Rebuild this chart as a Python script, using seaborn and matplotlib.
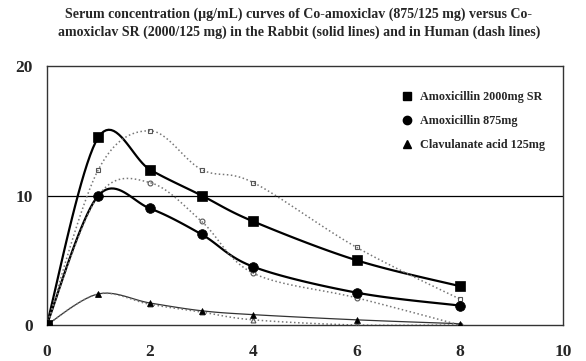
import numpy as np
import pandas as pd
import matplotlib
matplotlib.use("Agg")
import matplotlib.pyplot as plt
from matplotlib.lines import Line2D
import seaborn as sns

# ---- data ----
time_h = [0, 1, 2, 3, 4, 6, 8]
rabbit_amox2000 = [0, 14.5, 12.0, 10.0, 8.0, 5.0, 3.0]
rabbit_amox875 = [0, 10.0, 9.0, 7.0, 4.5, 2.5, 1.5]
rabbit_clav = [0, 2.4, 1.7, 1.1, 0.8, 0.4, 0.1]
human_amox2000 = [0, 12.0, 15.0, 12.0, 11.0, 6.0, 2.0]
human_amox875 = [0, 10.0, 11.0, 8.0, 4.0, 2.1, 0.0]
human_clav = [0, 2.4, 1.6, 1.0, 0.4, 0.0, 0.0]
legend_labels = ["Amoxicillin 2000mg SR", "Amoxicillin 875mg", "Clavulanate acid 125mg"]
title_text = ("Serum concentration (\u00b5g/mL) curves of Co-amoxiclav (875/125 mg) versus Co-\n"
              "amoxiclav SR (2000/125 mg) in the Rabbit (solid lines) and in Human (dash lines)")
x_ticks = [0, 2, 4, 6, 8, 10]
y_ticks = [0, 10, 20]


def smooth(xs, ys, n=20):
    """Catmull-Rom style smoothing (like spreadsheet 'smoothed line')."""
    xs = np.asarray(xs, float)
    ys = np.asarray(ys, float)
    P = np.column_stack([xs, ys])
    P = np.vstack([P[0], P, P[-1]])
    out = []
    for i in range(1, len(P) - 2):
        p0, p1, p2, p3 = P[i - 1], P[i], P[i + 1], P[i + 2]
        c1 = p1 + (p2 - p0) / 6.0
        c2 = p2 - (p3 - p1) / 6.0
        t = np.linspace(0, 1, n, endpoint=(i == len(P) - 3))[:, None]
        seg = ((1 - t) ** 3) * p1 + 3 * ((1 - t) ** 2) * t * c1 + 3 * (1 - t) * t ** 2 * c2 + t ** 3 * p2
        out.append(seg)
    out = np.vstack(out)
    return out[:, 0], out[:, 1]


sns.set_style("white")
plt.rcParams["font.family"] = ["Liberation Serif", "DejaVu Serif"]

fig = plt.figure(figsize=(5.86, 3.61), dpi=100)
ax = fig.add_axes([0.0797, 0.0997, 0.961 - 0.0797, 0.817 - 0.0997])

series = [
    (rabbit_amox2000, "-", 1.6, "black", "s", 7.5, "black"),
    (rabbit_amox875, "-", 1.6, "black", "o", 7.0, "black"),
    (rabbit_clav, "-", 0.9, "#333333", "^", 4.5, "black"),
    (human_amox2000, ":", 1.1, "#777777", "s", 3.5, "none"),
    (human_amox875, ":", 1.1, "#777777", "o", 3.5, "none"),
    (human_clav, ":", 1.1, "#777777", "^", 3.5, "none"),
]

for ys, ls, lw, col, mk, ms, fc in series:
    sx, sy = smooth(time_h, ys)
    sns.lineplot(x=sx, y=sy, ax=ax, sort=False, estimator=None,
                 color=col, linestyle=ls, linewidth=lw)
for ys, ls, lw, col, mk, ms, fc in series[3:] + series[:3]:
    ec = "#555555" if fc == "none" else "black"
    ax.plot(time_h, ys, linestyle="none", marker=mk, markersize=ms,
            markerfacecolor=fc, markeredgecolor=ec, markeredgewidth=0.8 if fc == "none" else 0.5,
            zorder=4)

ax.axhline(10, color="black", linewidth=0.9, zorder=1)
ax.set_xlim(0, 10)
ax.set_ylim(0, 20)
ax.set_xticks(x_ticks)
ax.set_yticks(y_ticks)
ax.set_xlabel("")
ax.set_ylabel("")
for s in ax.spines.values():
    s.set_color("#333333")
    s.set_linewidth(1.0)
ax.tick_params(axis="both", which="both", direction="out", length=4, width=1,
               color="#333333", labelsize=12.5)
ax.tick_params(axis="y", pad=6)
ax.tick_params(axis="x", pad=9.5)
for lab in ax.get_xticklabels() + ax.get_yticklabels():
    lab.set_fontweight("bold")

handles = [
    Line2D([], [], linestyle="none", marker="s", markersize=6, color="black"),
    Line2D([], [], linestyle="none", marker="o", markersize=6, color="black"),
    Line2D([], [], linestyle="none", marker="^", markersize=6, color="black"),
]
ax.legend(handles, legend_labels, loc="upper right", bbox_to_anchor=(0.985, 0.945),
          frameon=False, prop={"weight": "bold", "size": 8.7}, handletextpad=0.4,
          labelspacing=1.0, handlelength=1.2)

fig.suptitle(title_text, x=0.51, y=0.98, fontsize=10, fontweight="bold", linespacing=1.45)

fig.savefig("out.png", dpi=100)
